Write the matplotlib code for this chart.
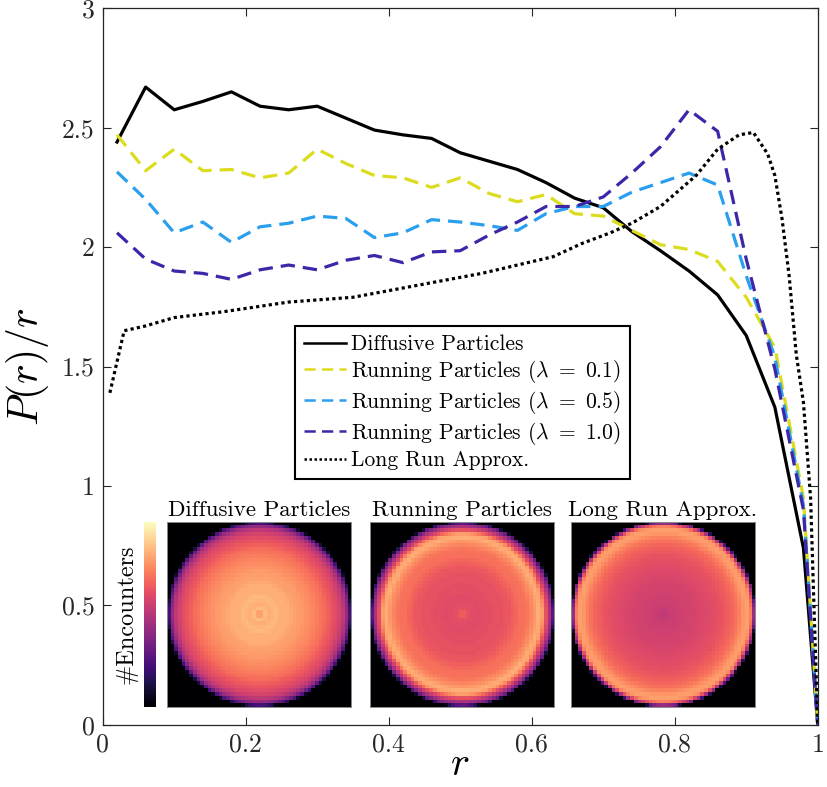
import numpy as np
import matplotlib
matplotlib.use('Agg')
import matplotlib.pyplot as plt

plt.rcParams['font.family'] = ['cmr10', 'DejaVu Serif']
plt.rcParams['mathtext.fontset'] = 'cm'
plt.rcParams['axes.formatter.use_mathtext'] = True

# binned curves (bin centres + wall at r = 1)
r_bins = [0.02, 0.06, 0.10, 0.14, 0.18, 0.22, 0.26, 0.30, 0.34, 0.38, 0.42, 0.46, 0.50,
          0.54, 0.58, 0.62, 0.66, 0.70, 0.74, 0.78, 0.82, 0.86, 0.90, 0.94, 0.98, 1.0]
diffusive = [2.44, 2.67, 2.575, 2.61, 2.65, 2.59, 2.575, 2.59, 2.54, 2.49, 2.47, 2.455, 2.395,
             2.36, 2.325, 2.27, 2.205, 2.165, 2.065, 1.985, 1.90, 1.80, 1.63, 1.33, 0.74, 0.0]
run_01 = [2.47, 2.32, 2.41, 2.32, 2.325, 2.29, 2.31, 2.41, 2.35, 2.30, 2.29, 2.25, 2.29,
          2.225, 2.19, 2.22, 2.14, 2.13, 2.07, 2.01, 1.99, 1.94, 1.79, 1.58, 0.95, 0.0]
run_05 = [2.315, 2.20, 2.06, 2.105, 2.02, 2.085, 2.10, 2.13, 2.12, 2.04, 2.06, 2.115, 2.105,
          2.09, 2.07, 2.14, 2.17, 2.17, 2.23, 2.27, 2.31, 2.26, 1.88, 1.54, 0.92, 0.0]
run_10 = [2.06, 1.95, 1.90, 1.89, 1.865, 1.905, 1.925, 1.905, 1.945, 1.965, 1.935, 1.98, 1.985,
          2.05, 2.105, 2.17, 2.17, 2.21, 2.31, 2.42, 2.575, 2.485, 1.95, 1.49, 0.90, 0.0]

# long run approximation
r_long = [0.01, 0.03, 0.06, 0.10, 0.17, 0.26, 0.35, 0.44, 0.53, 0.63, 0.67, 0.71, 0.74, 0.78,
          0.83, 0.86, 0.89, 0.91, 0.93, 0.94, 0.95, 0.96, 0.97, 0.98, 0.99, 0.995, 1.0]
long_run = [1.39, 1.65, 1.67, 1.705, 1.73, 1.77, 1.79, 1.84, 1.89, 1.96, 2.015, 2.06, 2.10, 2.17,
            2.30, 2.41, 2.47, 2.48, 2.39, 2.30, 2.12, 1.88, 1.55, 1.35, 0.95, 0.47, 0.0]

labels = ['Diffusive Particles',
          r'Running Particles ($\lambda\ =\ 0.1$)',
          r'Running Particles ($\lambda\ =\ 0.5$)',
          r'Running Particles ($\lambda\ =\ 1.0$)',
          'Long Run Approx.']
colors = ['black', '#DCDC1E', '#2A9FEE', '#3E26A8', 'black']

inset_titles = ['Diffusive Particles', 'Running Particles', 'Long Run Approx.']

xticks = [0, 0.2, 0.4, 0.6, 0.8, 1]
xtick_labels = ['0', '0.2', '0.4', '0.6', '0.8', '1']
yticks = [0, 0.5, 1, 1.5, 2, 2.5, 3]
ytick_labels = ['0', '0.5', '1', '1.5', '2', '2.5', '3']


def radial_image(r_pts, vals, n=50):
    # density map on the unit disc built from the radial profile
    c = (np.arange(n) + 0.5) / n * 2 - 1
    xx, yy = np.meshgrid(c, c)
    rr = np.hypot(xx, yy)
    return np.interp(rr, r_pts, vals, right=0.0)


fig = plt.figure(figsize=(8.27, 7.87), dpi=100)
ax = fig.add_axes([0.1242, 0.0790, 0.8646, 0.9105])

lw = 2.3
dash = (0, (4.5, 2.5))
ax.plot(r_bins, diffusive, color=colors[0], lw=lw, label=labels[0])
ax.plot(r_bins, run_01, color=colors[1], lw=lw, ls=dash, label=labels[1])
ax.plot(r_bins, run_05, color=colors[2], lw=lw, ls=dash, label=labels[2])
ax.plot(r_bins, run_10, color=colors[3], lw=lw, ls=dash, label=labels[3])
ax.plot(r_long, long_run, color=colors[4], lw=lw, ls=(0, (1, 1)), label=labels[4])

ax.set_xlim(0, 1)
ax.set_ylim(0, 3)
ax.set_xticks(xticks)
ax.set_xticklabels(xtick_labels)
ax.set_yticks(yticks)
ax.set_yticklabels(ytick_labels)
ax.tick_params(direction='in', length=6, width=0.8, top=True, right=True,
               labelsize=18.5, colors='#262626', pad=6)
for s in ax.spines.values():
    s.set_linewidth(0.9)
    s.set_color('#262626')
ax.set_xlabel('$r$', fontsize=29, labelpad=-7)
ax.set_ylabel('$P(r)/r$', fontsize=30, labelpad=8)

leg = ax.legend(loc='upper left', bbox_to_anchor=(0.269, 0.5566), borderaxespad=0,
                fontsize=15.5, fancybox=False, framealpha=1, edgecolor='black',
                handlelength=1.95, handletextpad=0.25, labelspacing=0.18, borderpad=0.4)
leg.get_frame().set_linewidth(1.5)
for h in leg.get_lines():
    h.set_linewidth(1.8)

# inset density maps
profiles = [(r_bins, diffusive), (r_bins, run_10), (r_long, long_run)]
lefts = [0.2019, 0.4474, 0.6904]
im = None
for left, (rp, vals), title in zip(lefts, profiles, inset_titles):
    iax = fig.add_axes([left, 0.1017, 0.2225, 0.2351])
    im = iax.imshow(radial_image(rp, vals), cmap='magma', vmin=0, vmax=3.1,
                    interpolation='nearest', aspect='auto')
    iax.set_xticks([])
    iax.set_yticks([])
    for s in iax.spines.values():
        s.set_color('0.55')
        s.set_linewidth(0.7)
    iax.set_title(title, fontsize=16.5, pad=4)

cax = fig.add_axes([0.1736, 0.1017, 0.0156, 0.2351])
cb = fig.colorbar(im, cax=cax)
cb.set_ticks([])
cb.outline.set_visible(False)
cax.yaxis.set_label_position('left')
cb.set_label('#Encounters', fontsize=17.5, labelpad=4)

fig.savefig('out.png', dpi=100)
